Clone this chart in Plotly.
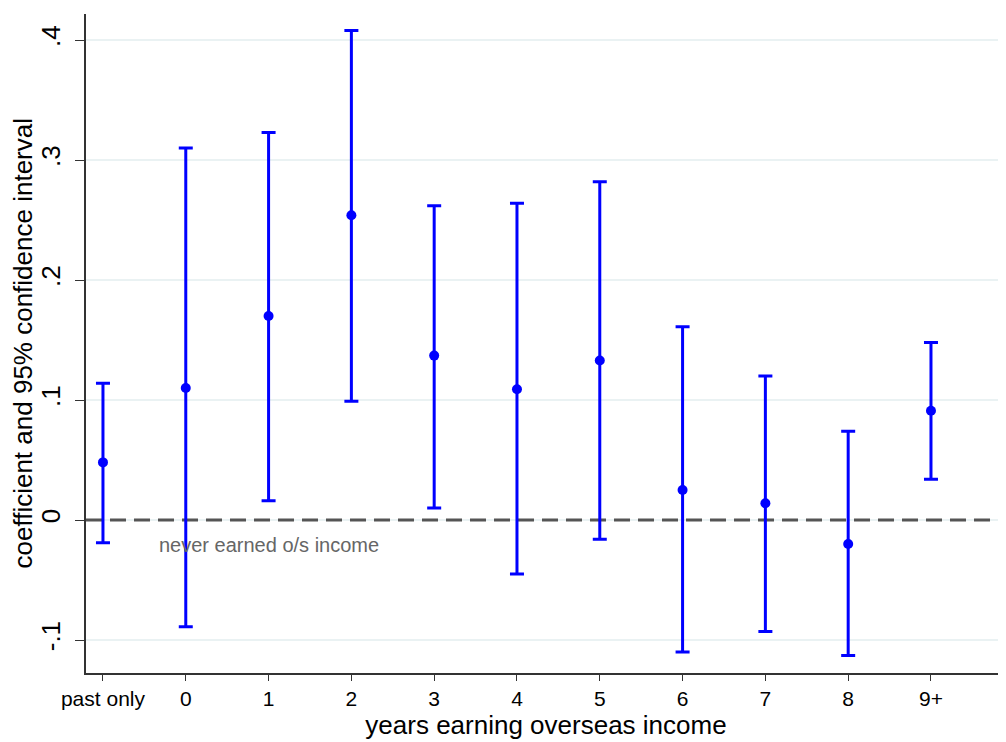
import plotly.graph_objects as go

categories = ["past only", "0", "1", "2", "3", "4", "5", "6", "7", "8", "9+"]
coef = [0.048, 0.110, 0.170, 0.254, 0.137, 0.109, 0.133, 0.025, 0.014, -0.020, 0.091]
upper = [0.114, 0.310, 0.323, 0.408, 0.262, 0.264, 0.282, 0.161, 0.120, 0.074, 0.148]
lower = [-0.019, -0.089, 0.016, 0.099, 0.010, -0.045, -0.016, -0.110, -0.093, -0.113, 0.034]
ytick_vals = [-0.1, 0, 0.1, 0.2, 0.3, 0.4]
ytick_text = ["-.1", "0", ".1", ".2", ".3", ".4"]
x_range = [-0.205, 10.906]
y_range = [-0.1275, 0.4217]

xs = list(range(len(categories)))
err_plus = [u - c for u, c in zip(upper, coef)]
err_minus = [c - l for c, l in zip(coef, lower)]

fig = go.Figure()
# reference line at zero (below the data)
fig.add_trace(go.Scatter(
    x=x_range, y=[0, 0], mode="lines",
    line=dict(color="#555555", width=3, dash="16px,8px"),
    showlegend=False, hoverinfo="skip",
))
fig.add_trace(go.Scatter(
    x=xs, y=coef, mode="markers",
    marker=dict(color="#0000ff", size=10),
    error_y=dict(type="data", symmetric=False, array=err_plus, arrayminus=err_minus,
                 color="#0000ff", thickness=3, width=7),
    showlegend=False, cliponaxis=False,
))

fig.add_annotation(x=2, y=-0.021, xref="x", yref="y", text="never earned o/s income",
                   showarrow=False, font=dict(family="Liberation Sans, Arial", size=20, color="#666666"))
fig.add_annotation(x=0, y=0.5, xref="paper", yref="paper", xshift=-64, textangle=-90,
                   text="coefficient and 95% confidence interval", showarrow=False,
                   xanchor="center", yanchor="middle",
                   font=dict(family="Liberation Sans, Arial", size=26, color="#000000"))

fig.update_layout(
    width=998, height=734,
    margin=dict(l=78, r=0, t=6, b=69),
    paper_bgcolor="white", plot_bgcolor="white",
    font=dict(family="Liberation Sans, Arial", color="#000000"),
    xaxis=dict(
        range=x_range, tickmode="array", tickvals=xs, ticktext=categories,
        showgrid=False, zeroline=False, showline=True, linecolor="#333333", linewidth=1.5,
        ticks="outside", ticklen=6, tickcolor="#333333", tickfont=dict(size=21),
        title=dict(text="years earning overseas income", font=dict(size=26), standoff=4),
    ),
    yaxis=dict(
        range=y_range, tickmode="array", tickvals=ytick_vals, ticktext=ytick_text,
        showgrid=True, gridcolor="#eaf2f3", gridwidth=2, zeroline=False,
        showline=True, linecolor="#333333", linewidth=1.5,
        ticks="outside", ticklen=9, tickcolor="#333333", tickangle=-90, tickfont=dict(size=26),
        ticklabelstandoff=5,
    ),
)

fig.write_html("out.html")
